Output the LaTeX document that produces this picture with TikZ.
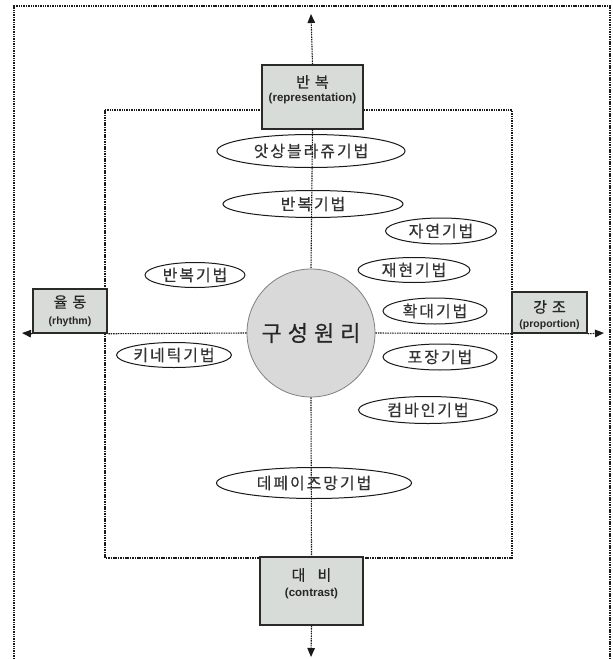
\documentclass[tikz,border=0pt]{standalone}
\usepackage{fontspec}
\setmainfont{Liberation Sans}
\newfontfamily\kr[LetterSpace=12,FakeBold=0.5]{Noto Sans CJK KR}
\newfontfamily\krb[FakeBold=0.5]{Noto Sans CJK KR}
\usetikzlibrary{shapes.geometric,arrows.meta}
\definecolor{boxfill}{HTML}{D8DCD8}
\definecolor{circfill}{HTML}{D9D9D9}
\definecolor{boxline}{HTML}{2A2A2A}
\begin{document}
\begin{tikzpicture}[x=1pt,y=-1pt,
  dl/.style={line width=1.1pt,dash pattern=on 1.5pt off 0.9pt,color=black!90},
  tipa/.style={-{Triangle[length=9pt,width=7.5pt]}},
  catbox/.style={draw=boxline,line width=1.5pt,fill=boxfill,rectangle,inner sep=0pt},
  tech/.style={draw=black!90,line width=1pt,ellipse,inner sep=0pt,font=\kr\fontsize{16}{16}\selectfont,text=black!80},
  kt/.style={font=\krb\fontsize{15}{15}\selectfont,text=black!85,inner sep=0pt},
  et/.style={font=\bfseries\fontsize{10.5}{11}\selectfont,text=black!85,inner sep=0pt}]
\useasboundingbox (0,0) rectangle (613,659);
% outer and inner frames
\draw[dl] (14,659) -- (14,6) -- (610,6) -- (610,659);
\draw[dl] (105,110) rectangle (512,558);
% tips
\coordinate (ttip) at (311,14);
\coordinate (btip) at (311,657);
\coordinate (ltip) at (22,333);
\coordinate (rtip) at (604,333);
% circle
\node[circle,draw=black!50,line width=0.8pt,fill=circfill,minimum size=128pt,inner sep=0pt] (c) at (311,333) {};
\node[font=\krb\fontsize{22}{22}\selectfont,text=black!85] (ct) at (311,333) {구\hspace{6pt}성\hspace{6pt}원\hspace{6pt}리};
% category boxes
\node[catbox,minimum width=101pt,minimum height=64pt] (tb) at (312.5,97) {};
\node[kt] (tb1) at (312.5,82) {반\hspace{5pt}복};
\node[et,font=\bfseries\fontsize{11.5}{12}\selectfont] (tb2) at (312.5,99) {(representation)};
\node[catbox,minimum width=74pt,minimum height=44pt] (lb) at (70,311) {};
\node[kt] (lb1) at (70,302) {율\hspace{5pt}동};
\node[et] (lb2) at (70,322) {(rhythm)};
\node[catbox,minimum width=75pt,minimum height=41pt] (rb) at (549.5,312.5) {};
\node[kt] (rb1) at (549.5,307) {강\hspace{5pt}조};
\node[et] (rb2) at (549.5,325) {(proportion)};
\node[catbox,minimum width=103pt,minimum height=68pt] (bb) at (311.5,591) {};
\node[kt] (bb1) at (311.5,575) {대\hspace{12pt}비};
\node[et,font=\bfseries\fontsize{11.5}{12}\selectfont] (bb2) at (311.5,594) {(contrast)};
% axes
\draw[dl,tipa] (tb.north) -- (ttip);
\draw[dl] (tb.south) -- (c.north);
\draw[dl] (c.south) -- (bb.north);
\draw[dl,tipa] (bb.south) -- (btip);
\draw[dl] (c.west) -- (lb.south east);
\draw[dl,tipa] (lb.south west) -- (ltip);
\draw[dl] (c.east) -- (rb.south west);
\draw[dl,tipa] (rb.south east) -- (rtip);
% technique ellipses
\node[tech,minimum width=188pt,minimum height=33pt] (e1) at (311,151) {앗상블라쥬기법};
\node[tech,minimum width=180pt,minimum height=27pt] (e2) at (313,204) {반복기법};
\node[tech,minimum width=111pt,minimum height=26pt] (e3) at (441,231) {자연기법};
\node[tech,minimum width=112pt,minimum height=25pt] (e4) at (414,270) {재현기법};
\node[tech,minimum width=104pt,minimum height=26pt] (e5) at (435,311) {확대기법};
\node[tech,minimum width=114pt,minimum height=26pt] (e6) at (440,357) {포장기법};
\node[tech,minimum width=139pt,minimum height=27pt] (e7) at (428,410) {컴바인기법};
\node[tech,minimum width=100pt,minimum height=25pt] (e8) at (195,275) {반복기법};
\node[tech,minimum width=112pt,minimum height=25pt] (e9) at (174,355) {키네틱기법};
\node[tech,minimum width=195pt,minimum height=31pt] (e10) at (314,483) {데페이즈망기법};
\end{tikzpicture}
\end{document}
